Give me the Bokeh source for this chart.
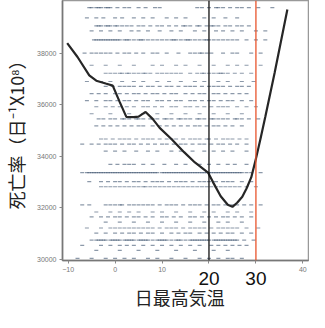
from bokeh.plotting import figure
from bokeh.models import Span, FixedTicker, Range1d, LinearAxis
from bokeh.embed import file_html
from bokeh.resources import INLINE

# ---- data ----
curve_temp = [-10.2, -8, -5.5, -4, -2, -0.5, 1, 2.4, 4, 5, 6.5, 8, 9.5, 12, 14.7,
              17, 19.8, 21, 22.5, 24, 25, 26, 27.1, 28, 29, 30, 31, 32, 34, 36.7]
curve_rate = [38390, 37850, 37140, 36930, 36820, 36740, 36100, 35530, 35520, 35540,
              35720, 35450, 35100, 34670, 34160, 33760, 33370, 32950, 32450, 32120,
              32040, 32200, 32430, 32750, 33180, 33900, 34700, 35530, 37250, 39690]

row_rates = [39760, 39370, 39060, 38860, 38510, 38000, 37530, 37220, 36900, 36710,
             36430, 36160, 35920, 35650, 35450, 35180, 34670, 34470, 34200, 33690,
             33370, 33020, 32820, 32120, 31840, 31650, 31450, 31220, 31020, 30750,
             30550, 30350, 30040]
row_temps = [
    [-5.5, -5, -4, -3.5, -3, -2, -1.5, -1, 0.5, 2, 3, 5, 6.5, 8.5, 9.5, 17.5, 18.5, 20, 21.5, 22, 23, 24.5, 26, 27, 28.5, 30.5, 33.5],
    [-6, -4, -2.5, 0, 1.5, 4, 6, 8, 11, 13, 15, 19, 21, 23.5, 26],
    [-4, -3.5, -3, -2, -1.5, -1, 0, 0.5, 1.5, 2.5, 3.5, 5, 6, 7.5, 9, 10, 11.5, 13, 14.5, 15, 16, 17.5, 18, 19.5, 20.5, 21, 22, 23.5, 24.5, 26, 27, 28.5],
    [-5, -3, -1, 1, 3.5, 5, 7, 9.5, 12, 14, 17, 19, 21.5, 23, 25, 27, 30, 32],
    [-4.5, -4, -3.5, -3, -2.5, -2, -1.5, -1, -0.5, 0, 0.5, 1, 2, 2.5, 3, 4, 5, 5.5, 6, 7, 8, 9, 10, 11, 12, 12.5, 13, 14, 15, 15.5, 16, 17, 18, 19, 19.5, 20, 21, 22, 23, 24, 25, 26, 28, 30, 32],
    [-6.5, -5, -4, -3, -2, -1, 0.5, 2, 3, 4.5, 6, 8, 9, 11, 13.5, 16, 17, 18, 18.5, 19.5, 20.5, 23, 25, 26, 29, 31],
    [-5, -2, 1, 4, 8, 10, 13, 15, 18, 21, 24, 26, 28, 31],
    [-2, -1, 0, 1, 1.5, 2.5, 3, 4, 5, 6, 6.5, 7.5, 9, 10, 11, 12, 13, 14, 16, 17.5, 18.5, 19, 20, 21, 22, 22.5, 23, 24, 25.5, 27, 29],
    [-6, -3, -1, 1.5, 4, 6, 9, 11.5, 14, 17, 19, 22, 24, 27, 29.5],
    [-2, -0.5, 1, 2, 3, 4, 5.5, 7, 8, 9.5, 11, 12, 13.5, 15, 16, 17, 18.5, 20, 21, 22, 23, 24.5, 26, 27, 28.5],
    [-5, -3.5, -2, 0, 1, 2.5, 4, 5, 6.5, 8, 9, 10.5, 12, 13, 15, 16.5, 18, 19, 21, 22, 23.5, 25, 26.5, 28],
    [-6, -4, -2, -1, 0.5, 2, 3, 4.5, 6, 7, 9, 10, 11.5, 13, 14, 16, 17, 18.5, 20, 21, 22.5, 24, 25, 27, 29],
    [-4, -2, -0.5, 1, 2.5, 4, 6, 7, 8.5, 10, 12, 13, 15, 16, 17.5, 19, 20.5, 22, 23, 24, 26, 28, 30],
    [-5, -1, 3, 6, 9, 12, 15, 18, 21, 24, 27],
    [-3.5, -2.5, -1, 0, 1.5, 2, 3, 4.5, 5, 6, 7.5, 8, 9, 10.5, 11, 12, 13.5, 14, 15, 16, 17.5, 18, 19, 20.5, 21, 22, 23, 24, 25.5, 26, 27, 28.5, 30.5],
    [-4, -2.5, -1, 0.5, 2, 3.5, 5, 6, 8, 9.5, 11, 12.5, 14, 15.5, 17, 18, 19.5, 21, 22, 23.5, 25, 27],
    [-3, -2, -0.5, 1, 2, 3, 4.5, 6, 7, 8, 9.5, 11, 12, 13, 14.5, 16, 17, 18, 19.5, 20, 21.5, 23, 24, 25, 26.5, 28],
    [-7, -5, -3.5, -2, -1, 0, 1.5, 3, 4, 5.5, 7, 8.5, 10, 11, 12.5, 14, 15, 16.5, 18, 19, 20.5, 22, 23, 24.5, 26, 28],
    [-2, 0, 2, 4.5, 7, 9, 12, 14, 16.5, 19, 21, 23, 25, 28],
    [-1, 0.5, 2, 3, 4, 6, 8, 10.5, 13, 15, 18, 20, 22, 24, 25.5, 28],
    [-7, -6, -5.5, -5, -4.5, -4, -3.5, -3, -2.5, -2, -1.5, -1, -0.5, 0, 0.5, 1, 1.5, 2, 2.5, 3, 3.5, 4, 4.5, 5, 5.5, 6, 6.5, 7, 7.5, 8, 8.5, 9, 10, 10.5, 11, 11.5, 12, 12.5, 13, 13.5, 14, 14.5, 15, 15.5, 16, 16.5, 17, 17.5, 18, 18.5, 19, 19.5, 20, 20.5, 21, 21.5, 22, 22.5, 23, 23.5, 24, 24.5, 25, 25.5, 26, 26.5, 27, 28, 29, 31],
    [-5.5, -3, -1.5, 0, 1, 2.5, 4, 5, 6.5, 8, 9, 10, 11.5, 13, 14, 15, 16.5, 18, 19, 20, 21.5, 23, 24, 25, 27, 29],
    [-3, -2, -1, 0, 1, 2, 3, 4, 5, 6, 6.5, 7.5, 8.5, 9.5, 10.5, 11.5, 12.5, 13.5, 14.5, 15.5, 16.5, 17.5, 18.5, 19.5, 20.5, 21.5, 22.5, 23.5, 24.5, 25.5, 26.5, 28, 30],
    [-7, -5.5, -2, -1, 0, 1, 1.5, 3, 4, 5, 6, 7, 8, 9.5, 11, 12, 13, 14.5, 16, 17, 18, 19.5, 21, 22, 23.5, 25, 26, 27.5, 29, 31],
    [-4, -1, 1, 3, 5, 8, 10, 13, 16, 19, 21, 24, 26, 29],
    [-5, -3, -1.5, 0, 1, 2.5, 4, 5, 6.5, 8, 10, 11, 12.5, 14, 16, 17, 18.5, 20, 21.5, 23, 24, 25.5, 27, 29],
    [-2, 1, 4, 7, 10, 13, 16, 19, 22, 24, 27],
    [-6, -3, -1, 0, 1, 2, 3, 4, 5, 6, 7, 8, 9.5, 11, 12, 13, 14.5, 16, 17, 18, 19, 20.5, 22, 23, 24, 25, 26, 28, 30.5],
    [-4, -2, 0, 1.5, 3, 4, 5.5, 7, 8, 10, 12, 13.5, 15, 16, 18, 19.5, 21, 22.5, 24, 25, 27, 29],
    [-5, -4, -3.5, -3, -2.5, -2, -1, -0.5, 0, 0.5, 1, 2, 2.5, 3, 3.5, 4, 5, 5.5, 6, 6.5, 7, 8, 9, 9.5, 10, 10.5, 11, 12, 13, 13.5, 14, 15, 16, 16.5, 17, 17.5, 18, 18.5, 19, 19.5, 20, 21, 21.5, 22, 22.5, 23, 23.5, 24, 24.5, 25, 25.5, 26, 27.5, 29.5],
    [-7, -3, -1, 1, 2.5, 4, 6, 8, 10, 12, 14, 16, 18, 20.5, 22, 23.5, 25, 26.5, 28],
    [-4, 1, 5, 9, 13, 17, 21, 24],
    [-8, -5, -2, 0, 2, 4, 7, 9, 12, 15, 18, 20, 22, 24, 25, 27],
]

y_ticks = [30000, 32000, 34000, 36000, 38000]
x_ticks = [-10, 0, 10, 20, 30, 40]
marked_temps = [20, 30]
y_title = "死亡率（日⁻¹X10⁸）"
x_title = "日最高気温"
x_title_pos = 13.8

pts_x, pts_y = [], []
for r, temps in zip(row_rates, row_temps):
    for t in temps:
        pts_x.append(t)
        pts_y.append(r)

p = figure(width=309, height=312, output_backend="svg", toolbar_location=None,
           x_range=Range1d(-11.2, 41.2), y_range=Range1d(29960, 40040),
           min_border_left=57, min_border_right=1, min_border_top=0, min_border_bottom=50)
p.background_fill_color = "white"
p.border_fill_color = "white"
p.outline_line_color = "#999999"
p.outline_line_width = 1.5
p.xgrid.grid_line_color = None
p.ygrid.grid_line_color = None

p.scatter(pts_x, pts_y, marker="dash", size=4, line_width=1.2,
          line_color="#3f556f", line_alpha=0.6)

p.line(curve_temp, curve_rate, line_color="#262626", line_width=2.2)

p.add_layout(Span(location=marked_temps[0], dimension="height", line_color="#111111", line_width=1.3))
p.add_layout(Span(location=marked_temps[1], dimension="height", line_color="#e8542c", line_width=1.3))

for ax in (p.xaxis[0], p.yaxis[0]):
    ax.axis_line_color = "#777777"
    ax.axis_line_width = 1.5
    ax.major_tick_line_color = "#888888"
    ax.major_tick_out = 3
    ax.major_tick_in = 0
    ax.minor_tick_line_color = None
    ax.major_label_text_font = "Liberation Sans"
    ax.major_label_text_font_size = "7px"
    ax.major_label_text_color = "#777777"

p.yaxis.ticker = FixedTicker(ticks=y_ticks)
p.yaxis.major_label_standoff = 3
p.yaxis.axis_label = y_title
p.yaxis.axis_label_text_font = "Noto Sans CJK JP"
p.yaxis.axis_label_text_font_size = "18px"
p.yaxis.axis_label_text_font_style = "normal"
p.yaxis.axis_label_text_color = "#222222"
p.yaxis.axis_label_standoff = 5

p.xaxis.ticker = FixedTicker(ticks=x_ticks)
p.xaxis.major_label_overrides = {20: "", 30: ""}
p.xaxis.major_label_standoff = 3

# second bottom axis carrying the large "20" / "30" labels
big = LinearAxis(ticker=FixedTicker(ticks=marked_temps))
big.axis_line_color = None
big.major_tick_line_color = None
big.minor_tick_line_color = None
big.major_label_standoff = -9
big.major_label_text_font = "Liberation Sans"
big.major_label_text_font_size = "19px"
big.major_label_text_color = "#111111"
p.add_layout(big, "below")

# third bottom axis carrying the x title, placed where the reference shows it
ttl = LinearAxis(ticker=FixedTicker(ticks=[x_title_pos]))
ttl.axis_line_color = None
ttl.major_tick_line_color = None
ttl.minor_tick_line_color = None
ttl.major_label_overrides = {x_title_pos: x_title}
ttl.major_label_standoff = -10
ttl.major_label_text_font = "Noto Sans CJK JP"
ttl.major_label_text_font_size = "18px"
ttl.major_label_text_color = "#222222"
p.add_layout(ttl, "below")

open("out.html", "w").write(file_html(p, INLINE))
